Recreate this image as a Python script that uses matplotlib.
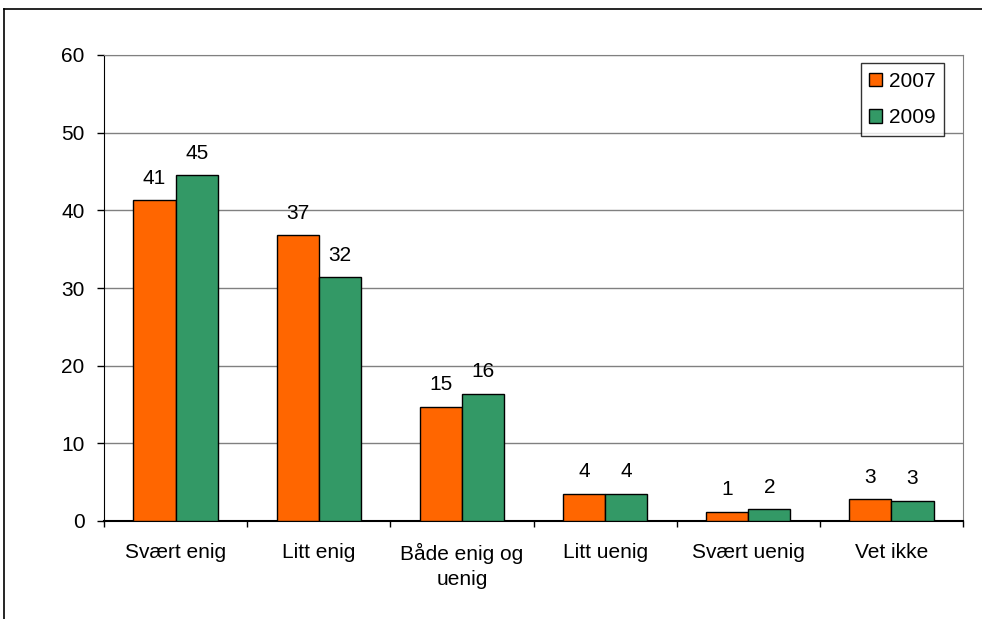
import matplotlib.pyplot as plt
import numpy as np
from matplotlib.lines import Line2D

plt.rcParams['font.family'] = ['Liberation Sans', 'DejaVu Sans']

categories = ['Svært enig', 'Litt enig', 'Både enig og\nuenig', 'Litt uenig', 'Svært uenig', 'Vet ikke']
v2007 = [41.3, 36.8, 14.7, 3.5, 1.2, 2.8]
v2009 = [44.5, 31.4, 16.4, 3.5, 1.5, 2.6]
lab2007 = ['41', '37', '15', '4', '1', '3']
lab2009 = ['45', '32', '16', '4', '2', '3']

FS = 15

fig = plt.figure(figsize=(9.82, 6.19), dpi=100)
ax = fig.add_axes([104 / 982, 1 - 521 / 619, (963 - 104) / 982, (521 - 55) / 619])

x = np.arange(len(categories))
w = 0.294
b1 = ax.bar(x - w / 2, v2007, w, color='#ff6600', edgecolor='black', linewidth=1, label='2007', zorder=3)
b2 = ax.bar(x + w / 2, v2009, w, color='#339966', edgecolor='black', linewidth=1, label='2009', zorder=3)
ax.bar_label(b1, labels=lab2007, padding=9, fontsize=FS)
ax.bar_label(b2, labels=lab2009, padding=9, fontsize=FS)

ax.set_xlim(-0.5, len(categories) - 0.5)
ax.set_ylim(0, 60)
ax.set_yticks(range(0, 61, 10))
ax.yaxis.grid(True, color='#808080', linewidth=1, zorder=0)
ax.set_axisbelow(True)

ax.set_xticks(x)
ax.set_xticklabels(categories, fontsize=FS, linespacing=1.35)
ax.set_xticks(np.arange(-0.5, len(categories), 1), minor=True)
ax.tick_params(axis='x', which='major', length=0, pad=16)
ax.tick_params(axis='x', which='minor', length=4, width=1, color='black')
ax.tick_params(axis='y', length=5, width=1, labelsize=FS, pad=9)

for s in ['top', 'right']:
    ax.spines[s].set_color('#808080')
ax.spines['left'].set_color('black')
ax.spines['bottom'].set_color('black')
ax.spines['bottom'].set_linewidth(1.5)

leg = ax.legend(loc='upper right', fontsize=FS, frameon=True, fancybox=False, edgecolor='black',
                handlelength=0.62, handleheight=0.62, handletextpad=0.3, labelspacing=0.85,
                borderpad=0.42, borderaxespad=0)
leg.set_bbox_to_anchor((944 / 982, 1 - 63 / 619), transform=fig.transFigure)
leg.get_frame().set_linewidth(1)

fig.add_artist(Line2D([4 / 982, 4 / 982], [0, 1 - 9 / 619], color='black', linewidth=1.2, transform=fig.transFigure))
fig.add_artist(Line2D([4 / 982, 1], [1 - 9 / 619, 1 - 9 / 619], color='black', linewidth=1.2, transform=fig.transFigure))

fig.savefig('out.png', dpi=100)
